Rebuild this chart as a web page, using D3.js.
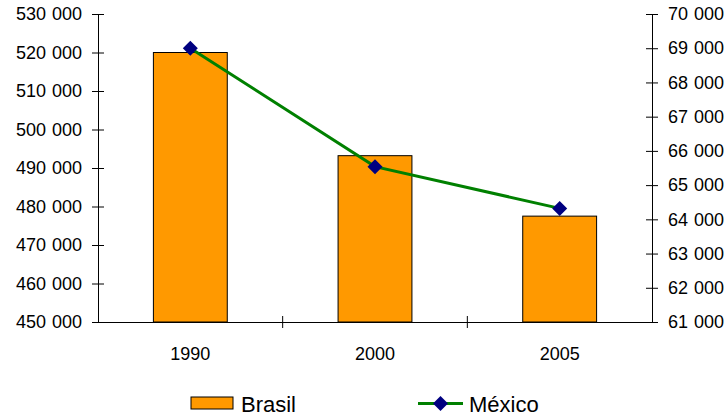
<!DOCTYPE html>
<html>
<head>
<meta charset="utf-8">
<script src="https://cdn.jsdelivr.net/npm/d3@7"></script>
<style>
  html, body { margin: 0; padding: 0; background: #fff; }
  svg { display: block; font-family: "Liberation Sans", Arial, sans-serif; }
</style>
</head>
<body>
<svg id="chart" width="727" height="418"></svg>
<script>
// Population figures by year
const years = ["1990", "2000", "2005"];
const brasil = [520000, 493200, 477500];
const mexico = [69000, 65540, 64320];
const leftTicks = [450000, 460000, 470000, 480000, 490000, 500000, 510000, 520000, 530000];
const rightTicks = [61000, 62000, 63000, 64000, 65000, 66000, 67000, 68000, 69000, 70000];
const seriesNames = ["Brasil", "México"];

const W = 727, H = 418;
const m = { left: 98, right: 75, top: 14, bottom: 96 };
const innerR = W - m.right;
const innerB = H - m.bottom;

const svg = d3.select("#chart");

const x = d3.scaleBand().domain(years).range([m.left, innerR]).paddingInner(0).paddingOuter(0);
const yL = d3.scaleLinear().domain([450000, 530000]).range([innerB, m.top]);
const yR = d3.scaleLinear().domain([61000, 70000]).range([innerB, m.top]);

const fmt = d3.formatLocale({ decimal: ",", thousands: " ", grouping: [3], currency: ["", ""] }).format(",d");

// Bars (Brasil, left axis)
const barW = x.bandwidth() * 0.4;
svg.append("g").selectAll("rect").data(brasil).join("rect")
  .attr("x", (d, i) => x(years[i]) + (x.bandwidth() - barW) / 2)
  .attr("y", d => yL(d))
  .attr("width", barW)
  .attr("height", d => yL(450000) - yL(d))
  .attr("fill", "#FF9900")
  .attr("stroke", "#000")
  .attr("stroke-width", 1);

// Left axis
const gL = svg.append("g").attr("transform", `translate(${m.left},0)`)
  .call(d3.axisLeft(yL).tickValues(leftTicks).tickFormat(fmt).tickSize(6).tickSizeOuter(0).tickPadding(10));
gL.selectAll(".tick line").attr("x1", 6).attr("x2", -6);

// Right axis
const gR = svg.append("g").attr("transform", `translate(${innerR},0)`)
  .call(d3.axisRight(yR).tickValues(rightTicks).tickFormat(fmt).tickSize(6).tickSizeOuter(0).tickPadding(10));
gR.selectAll(".tick line").attr("x1", -6).attr("x2", 6);

// Bottom axis: category labels centred, tick marks between categories
const gB = svg.append("g").attr("transform", `translate(0,${innerB})`)
  .call(d3.axisBottom(x).tickSize(0).tickSizeOuter(0).tickPadding(25));
gB.selectAll(".tick").filter((d, i) => i > 0).append("line")
  .attr("x1", -x.bandwidth() / 2).attr("x2", -x.bandwidth() / 2)
  .attr("y1", -6).attr("y2", 6).attr("stroke", "#000");

[gL, gR, gB].forEach(g => {
  g.selectAll("text").attr("font-size", 18).attr("fill", "#000")
    .attr("word-spacing", 1)
    .attr("font-family", "'Liberation Sans', Arial, sans-serif");
  g.selectAll("path.domain").attr("stroke", "#000");
  g.selectAll(".tick line").attr("stroke", "#000");
});

// Line (México, right axis)
const cx = i => x(years[i]) + x.bandwidth() / 2;
const line = d3.line().x((d, i) => cx(i)).y(d => yR(d));
svg.append("path").datum(mexico)
  .attr("d", line)
  .attr("fill", "none")
  .attr("stroke", "#008000")
  .attr("stroke-width", 3);

const diamond = "M0,-7.5L7.5,0L0,7.5L-7.5,0Z";
svg.append("g").selectAll("path").data(mexico).join("path")
  .attr("d", diamond)
  .attr("transform", (d, i) => `translate(${cx(i)},${yR(d)})`)
  .attr("fill", "#000080");

// Legend
const lg = svg.append("g").attr("font-size", 22).attr("fill", "#000");
lg.append("rect").attr("x", 191).attr("y", 397).attr("width", 42).attr("height", 12)
  .attr("fill", "#FF9900").attr("stroke", "#000").attr("stroke-width", 1);
lg.append("text").attr("x", 241).attr("y", 412).text(seriesNames[0]);
lg.append("line").attr("x1", 418).attr("x2", 463).attr("y1", 403.5).attr("y2", 403.5)
  .attr("stroke", "#008000").attr("stroke-width", 3);
lg.append("path").attr("d", diamond).attr("transform", "translate(440.5,403.5)").attr("fill", "#000080");
lg.append("text").attr("x", 469).attr("y", 412).text(seriesNames[1]);
</script>
</body>
</html>
